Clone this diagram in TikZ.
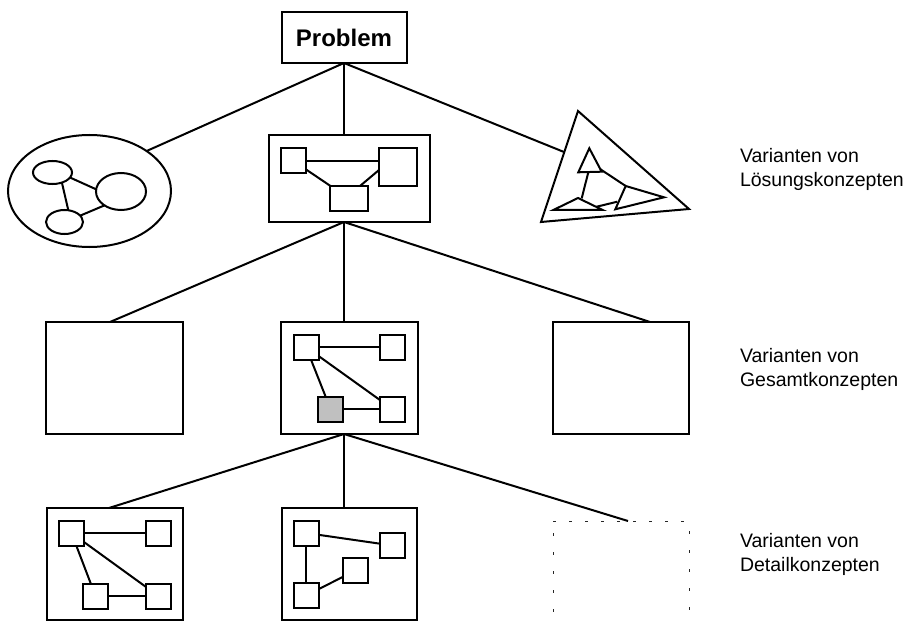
\documentclass[tikz,border=0pt]{standalone}
\usepackage{fontspec}
\setmainfont{Liberation Sans}
\usetikzlibrary{shapes.geometric}
\definecolor{fillgray}{RGB}{192,192,192}
\begin{document}
\begin{tikzpicture}[x=1bp,y=-1bp,line width=2bp,
  box/.style={draw, rectangle, inner sep=0pt, outer sep=0pt},
  sq/.style={box, minimum width=25bp, minimum height=25bp},
  oval/.style={draw, ellipse, inner sep=0pt, outer sep=0pt},
  lab/.style={anchor=north west, inner sep=0pt, align=left,
    font=\fontsize{19.5bp}{24.5bp}\selectfont},
  dots/.style={line width=1bp, black!85}]
\useasboundingbox (0,0) rectangle (914,625);

% root
\node[box, minimum width=125bp, minimum height=51bp,
  font=\bfseries\fontsize{24bp}{28bp}\selectfont] (prob) at (344,37.5) {Problem};

% level 1: solution concepts
\node[oval, minimum width=163bp, minimum height=112bp] (ell) at (89.5,191) {};
\node[oval, minimum width=39bp, minimum height=23bp] (e1) at (52.5,172.5) {};
\node[oval, minimum width=50bp, minimum height=37bp] (e2) at (121,191.5) {};
\node[oval, minimum width=37bp, minimum height=24bp] (e3) at (64.5,222) {};
\draw (e1.-16) -- (e2.175);
\draw (e1.-47) -- (e3.72);
\draw (e3.22) -- (e2.220);

\node[box, minimum width=161bp, minimum height=87bp] (b1) at (349.5,178.5) {};
\node[sq] (s1a) at (293.5,161) {};
\node[box, minimum width=38bp, minimum height=38bp] (s1b) at (398,167) {};
\node[box, minimum width=38bp, minimum height=25bp] (s1c) at (349,198.5) {};
\draw (s1a.east) -- (s1a.east -| s1b.west);
\draw (s1a) -- (s1c);
\draw ([yshift=-3bp]s1b.west) -- ([xshift=11bp]s1c.north);

\draw (578,111) -- (689,209) -- (541,222) -- cycle;
\coordinate (trihit) at (564,152);
\draw (589.3,148.3) -- (601.7,171.7) -- (578.3,172.3) -- cycle;
\draw (578,198) -- (602.7,210) -- (553.3,210) -- cycle;
\draw (625.7,186) -- (664,197.3) -- (615.3,209.3) -- cycle;
\draw (588.3,172.3) -- (581.7,198.3);
\draw (600,169) -- (625.7,186);
\draw (596.7,206.7) -- (617.3,201.7);

\draw (prob.south) -- (ell.35);
\draw (prob.south) -- (prob.south |- b1.north);
\draw (prob.south) -- (trihit);

% level 2: overall concepts
\node[box, minimum width=137bp, minimum height=112bp] (l2) at (114.5,378) {};
\node[box, minimum width=137bp, minimum height=112bp] (m2) at (349.5,378) {};
\node[box, minimum width=136bp, minimum height=112bp] (r2) at (621,378) {};
\node[sq] (m2a) at (306,347) {};
\node[sq] (m2b) at (392.5,347) {};
\node[sq, fill=fillgray] (m2c) at (330.5,409) {};
\node[sq] (m2d) at (392.5,409) {};
\draw (m2a) -- (m2b);
\draw (m2a) -- (m2c);
\draw (m2a) -- (m2d);
\draw (m2c) -- (m2d);

\coordinate (b1s) at (prob.south |- b1.south);
\draw (b1s) -- ([xshift=-4.5bp]l2.north);
\draw (b1s) -- (b1s |- m2.north);
\draw (b1s) -- ([xshift=29bp]r2.north);

% level 3: detail concepts
\node[box, minimum width=136bp, minimum height=112bp] (l3) at (115,564) {};
\node[sq] (l3a) at (71.5,533) {};
\node[sq] (l3b) at (158.5,533) {};
\node[sq] (l3c) at (95.5,596) {};
\node[sq] (l3d) at (158.5,596) {};
\draw (l3a) -- (l3b);
\draw (l3a) -- (l3c);
\draw (l3a) -- (l3d);
\draw (l3c) -- (l3d);

\node[box, minimum width=135bp, minimum height=112bp] (m3) at (349.5,564) {};
\node[sq] (m3a) at (306,533) {};
\node[sq] (m3b) at (392.5,545.5) {};
\node[sq] (m3c) at (355.5,570.5) {};
\node[sq] (m3d) at (306,595.5) {};
\draw (m3a) -- (m3b);
\draw (m3a) -- (m3d);
\draw (m3d) -- (m3c);

% open dotted variant
\draw[dots, dash pattern=on 3bp off 13bp] (553,521) -- (689,521);
\draw[dots, dash pattern=on 3bp off 16bp] (553,533) -- (553,625);
\draw[dots, dash pattern=on 3bp off 16bp] (689,531) -- (689,625);
\coordinate (r3top) at (628,521);

\coordinate (m2s) at (prob.south |- m2.south);
\draw (m2s) -- ([xshift=-6bp]l3.north);
\draw (m2s) -- (m2s |- m3.north);
\draw (m2s) -- (r3top);

% level captions
\node[lab] (cap1) at (739,147) {Varianten von\\Lösungskonzepten};
\node[lab] (cap2) at (739,347) {Varianten von\\Gesamtkonzepten};
\node[lab] (cap3) at (739,532) {Varianten von\\Detailkonzepten};
\end{tikzpicture}
\end{document}
